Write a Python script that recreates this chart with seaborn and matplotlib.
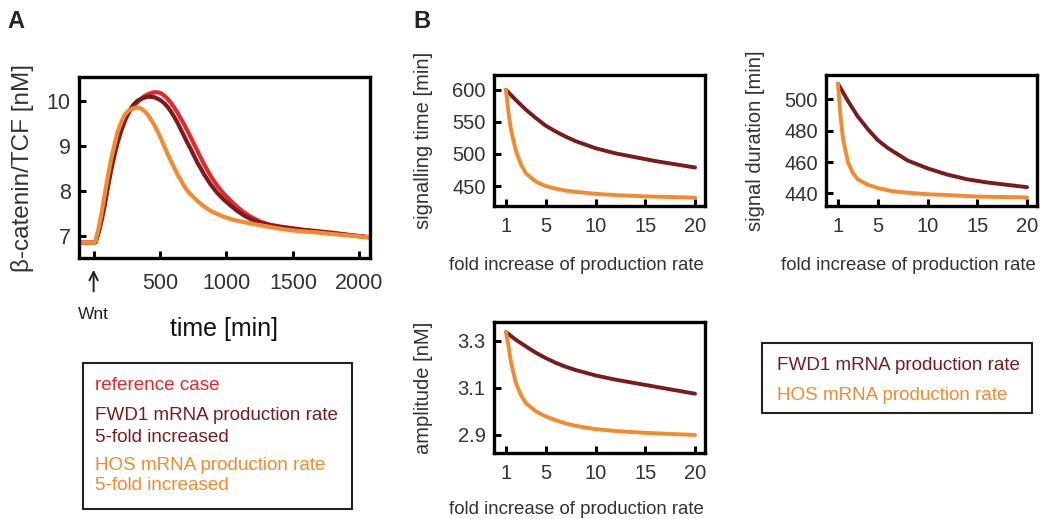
import matplotlib
matplotlib.use("Agg")
import matplotlib.pyplot as plt
import seaborn as sns
import pandas as pd

# --- Panel A: time courses of beta-catenin/TCF [nM] ---
time_min = [-110, 0, 15, 40, 60, 80, 105, 130, 155, 180, 205, 230, 255, 280, 305,
            330, 355, 380, 405, 430, 455, 480, 505, 530, 555, 580, 605, 630, 655,
            680, 705, 730, 755, 780, 830, 880, 930, 980, 1030, 1080, 1130, 1180,
            1255, 1330, 1405, 1480, 1580, 1680, 1805, 1930, 2080]
ref_case = [6.84, 6.84, 6.86, 7.1, 7.35, 7.63, 8.05, 8.44, 8.78, 9.07, 9.31, 9.52,
            9.68, 9.81, 9.9, 9.97, 10.04, 10.1, 10.14, 10.17, 10.19, 10.19, 10.17,
            10.12, 10.05, 9.96, 9.86, 9.74, 9.61, 9.48, 9.34, 9.19, 9.04, 8.89,
            8.59, 8.33, 8.11, 7.93, 7.78, 7.64, 7.52, 7.42, 7.31, 7.24, 7.2, 7.17,
            7.13, 7.1, 7.06, 7.01, 6.96]
fwd1_case = [6.84, 6.84, 6.86, 7.1, 7.36, 7.64, 8.06, 8.45, 8.79, 9.08, 9.33, 9.53,
             9.7, 9.83, 9.93, 10.0, 10.04, 10.07, 10.09, 10.09, 10.08, 10.05, 10.01,
             9.95, 9.87, 9.77, 9.65, 9.52, 9.37, 9.22, 9.07, 8.93, 8.78, 8.63,
             8.37, 8.14, 7.95, 7.8, 7.67, 7.55, 7.45, 7.37, 7.28, 7.23, 7.19, 7.16,
             7.12, 7.09, 7.05, 7.01, 6.96]
hos_case = [6.84, 6.84, 6.88, 7.2, 7.5, 7.85, 8.28, 8.67, 9.0, 9.3, 9.5, 9.67,
            9.76, 9.81, 9.84, 9.85, 9.83, 9.78, 9.7, 9.59, 9.47, 9.33, 9.17,
            9.0, 8.83, 8.67, 8.52, 8.37, 8.24, 8.11, 8.0, 7.92, 7.85, 7.77,
            7.65, 7.55, 7.48, 7.42, 7.37, 7.33, 7.3, 7.27, 7.23, 7.19, 7.15, 7.12,
            7.09, 7.07, 7.03, 7.0, 6.96]

# --- Panel B: dependence on fold increase of production rate ---
fold_fwd1 = [1, 2, 3, 4, 5, 6, 7, 8, 10, 12, 14, 16, 18, 20]
fold_hos = [1, 1.25, 1.5, 2, 2.5, 3, 4, 5, 6, 7, 8, 10, 12, 15, 20]

sig_time_fwd1 = [600, 584, 569, 556, 544, 535, 527, 520, 509, 501, 495, 489, 484, 479]
sig_time_hos = [600, 565, 538, 505, 484, 470, 457, 450, 446, 443, 441, 438, 436, 434, 432]

duration_fwd1 = [510, 499, 489, 481, 474, 469, 465, 461, 456, 452, 449, 447, 445.5, 444]
duration_hos = [510, 490, 475, 460, 453, 449, 445.5, 443.5, 442, 441, 440.5, 439.5, 439, 438, 437.5]

amp_fwd1 = [3.338, 3.305, 3.277, 3.25, 3.227, 3.207, 3.19, 3.176, 3.153, 3.135,
            3.12, 3.105, 3.09, 3.075]
amp_hos = [3.338, 3.28, 3.21, 3.12, 3.07, 3.035, 3.0, 2.978, 2.962, 2.948,
           2.938, 2.924, 2.916, 2.908, 2.899]

RED = "#e8262b"
DARK = "#7b1c1c"
ORANGE = "#f58a2c"

sns.set_style("ticks")
plt.rcParams["font.family"] = ["Liberation Sans", "DejaVu Sans"]

W, H = 1042, 519
fig = plt.figure(figsize=(W / 100, H / 100), dpi=100)


def px_axes(left, top, right, bottom):
    return fig.add_axes([left / W, 1 - bottom / H, (right - left) / W, (bottom - top) / H])


def style_axes(ax, size):
    for sp in ax.spines.values():
        sp.set_linewidth(2.4)
        sp.set_color("black")
    ax.tick_params(direction="in", length=5, width=2.2, labelsize=size,
                   labelcolor="#333333", color="black", pad=6)


# ---------- Panel A ----------
axA = px_axes(79, 77, 370, 258)
n = len(time_min)
dfA = pd.DataFrame({"t": time_min * 3,
                    "y": ref_case + fwd1_case + hos_case,
                    "case": ["ref"] * n + ["fwd1"] * n + ["hos"] * n})
sns.lineplot(data=dfA, x="t", y="y", hue="case", palette={"ref": RED, "fwd1": DARK, "hos": ORANGE},
             linewidth=3, legend=False, ax=axA)
axA.set_xlim(-110, 2080)
axA.set_ylim(6.5, 10.53)
axA.set_xticks([0, 500, 1000, 1500, 2000])
axA.set_xticklabels(["", "500", "1000", "1500", "2000"])
axA.set_yticks([7, 8, 9, 10])
style_axes(axA, 15.5)
axA.tick_params(axis="x", pad=11)
axA.set_xlabel("time [min]", fontsize=18, color="#111111")
axA.xaxis.set_label_coords(0.5, -0.325)
axA.set_ylabel("β-catenin/TCF [nM]", fontsize=17.5, color="#333333")
axA.yaxis.set_label_coords(-0.155, 0.5)
axA.annotate("", xy=(0, -0.05), xycoords=("data", "axes fraction"),
             xytext=(0, -0.2), textcoords=("data", "axes fraction"),
             arrowprops=dict(arrowstyle="->", lw=1.4, color="#222222", mutation_scale=15))
axA.text(0, -0.31, "Wnt", transform=axA.get_xaxis_transform(), ha="center", va="center",
         fontsize=12.5, color="#222222")

# legend box A
fig.patches.append(plt.Rectangle((83 / W, 1 - 509 / H), (352 - 83) / W, (509 - 363) / H,
                                 transform=fig.transFigure, fill=False, lw=1.5, ec="#222222"))
legA = [("reference case", 386, RED), ("FWD1 mRNA production rate", 416, DARK),
        ("5-fold increased", 437, DARK), ("HOS mRNA production rate", 466, ORANGE),
        ("5-fold increased", 486, ORANGE)]
for txt, yy, col in legA:
    fig.text(95 / W, 1 - yy / H, txt, color=col, fontsize=13.6, va="center", ha="left")

# ---------- Panel B ----------
panels = [
    ((494, 75, 705, 206), sig_time_fwd1, sig_time_hos, (419, 623), [450, 500, 550, 600],
     None, "signalling time [min]", -0.39),
    ((826, 75, 1037, 206), duration_fwd1, duration_hos, (432, 515.5), [440, 460, 480, 500],
     None, "signal duration [min]", -0.39),
    ((494, 322, 705, 453), amp_fwd1, amp_hos, (2.822, 3.381), [2.9, 3.1, 3.3],
     ["2.9", "3.1", "3.3"], "amplitude [nM]", -0.37),
]
for box, yf, yh, ylim, yticks, ylabels, ylab, xlab_y in panels:
    ax = px_axes(*box)
    sns.lineplot(x=fold_fwd1, y=yf, color=DARK, linewidth=2.8, ax=ax)
    sns.lineplot(x=fold_hos, y=yh, color=ORANGE, linewidth=2.8, ax=ax)
    ax.set_xlim(-0.2, 21)
    ax.set_ylim(*ylim)
    ax.set_xticks([1, 5, 10, 15, 20])
    ax.set_yticks(yticks)
    if ylabels:
        ax.set_yticklabels(ylabels)
    style_axes(ax, 14.5)
    ax.tick_params(axis="x", pad=8)
    ax.set_xlabel("fold increase of production rate", fontsize=13.4, color="#333333")
    ax.xaxis.set_label_coords(0.39, xlab_y)
    ax.set_ylabel(ylab, fontsize=14.5, color="#333333")
    ax.yaxis.set_label_coords(-0.29, 0.5)

# legend box B
fig.patches.append(plt.Rectangle((762 / W, 1 - 413 / H), (1032 - 762) / W, (413 - 343) / H,
                                 transform=fig.transFigure, fill=False, lw=1.5, ec="#222222"))
fig.text(777 / W, 1 - 365 / H, "FWD1 mRNA production rate", color=DARK, fontsize=13.6, va="center")
fig.text(777 / W, 1 - 395 / H, "HOS mRNA production rate", color=ORANGE, fontsize=13.6, va="center")

fig.text(16 / W, 1 - 22 / H, "A", fontsize=17, fontweight="bold", ha="center", va="center")
fig.text(422 / W, 1 - 22 / H, "B", fontsize=17, fontweight="bold", ha="center", va="center")

fig.savefig("out.png", dpi=100)
